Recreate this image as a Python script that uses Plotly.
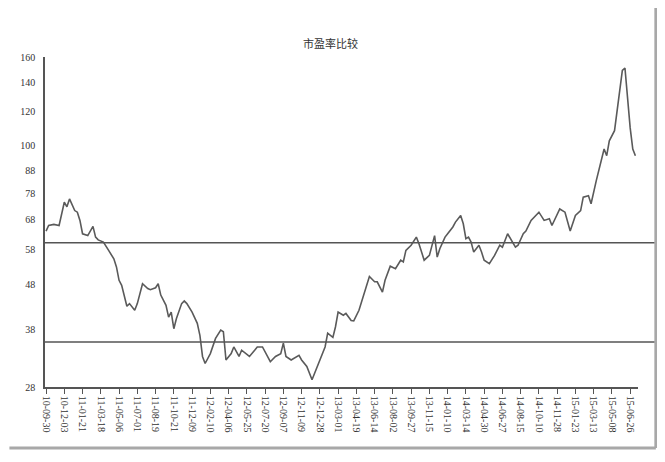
import math
import plotly.graph_objects as go

# ---- data (weekly index, value) ----
week_idx = [0, 1, 3, 5, 7, 8, 9, 11, 12, 13, 14, 16, 18, 19, 20, 22, 24, 26, 27, 28, 29,
            30, 31, 32, 34, 35, 37, 39, 40, 42, 43, 44, 46, 47, 48, 49, 50, 52, 53, 54, 56,
            58, 59, 60, 61, 63, 65, 67, 68, 69, 71, 72, 74, 75, 78, 80, 81, 83, 85, 86, 88,
            90, 91, 92, 94, 96, 97, 98, 100, 102, 103, 105, 107, 108, 110, 111, 112, 114, 115,
            117, 118, 120, 122, 124, 126, 127, 129, 130, 132, 134, 136, 137, 138, 140, 142,
            143, 145, 147, 149, 150, 151, 153, 154, 156, 157, 159, 160, 161, 162, 163, 164,
            166, 167, 168, 170, 172, 174, 175, 177, 178, 180, 181, 183, 184, 186, 189, 191,
            193, 194, 197, 199, 201, 203, 205, 206, 208, 209, 211, 213, 214, 215, 216, 218,
            219, 220, 221, 222, 223, 224, 225, 226]
pe_values = [63.8, 65.7, 66.1, 65.7, 74.3, 72.5, 75.6, 71.1, 70.5, 67.5, 62.9, 62.3, 65.4,
             61.8, 60.9, 60.2, 57.6, 55.1, 52.8, 49.2, 47.9, 45.1, 42.9, 43.5, 42.0, 43.5,
             48.3, 47.1, 46.8, 47.3, 48.3, 45.5, 43.1, 40.5, 41.6, 38.1, 40.2, 43.5, 44.1,
             43.5, 41.6, 39.2, 36.8, 32.9, 31.7, 33.4, 36.2, 37.8, 37.5, 32.3, 33.4, 34.6,
             32.9, 34.0, 32.9, 34.0, 34.6, 34.6, 32.9, 32.0, 32.9, 33.4, 35.3, 32.9, 32.3,
             32.9, 33.1, 32.3, 31.2, 29.1, 30.1, 32.3, 34.6, 37.2, 36.4, 38.5, 41.6, 40.9,
             41.3, 39.8, 39.7, 42.0, 46.0, 50.2, 48.8, 48.8, 46.2, 49.2, 53.0, 52.3, 54.7,
             54.2, 57.6, 59.2, 61.8, 59.7, 54.7, 56.1, 62.3, 55.6, 58.1, 61.8, 62.9, 65.2,
             66.9, 69.3, 66.3, 61.3, 61.8, 60.2, 57.1, 59.2, 57.1, 54.7, 53.7, 56.1, 59.2,
             58.6, 62.9, 61.3, 58.6, 59.2, 62.9, 63.8, 67.5, 70.5, 67.5, 68.1, 65.7, 71.7,
             70.5, 63.8, 69.3, 71.1, 76.3, 76.9, 73.7, 83.3, 92.5, 98.4, 95.0, 102.8, 108.4,
             120.4, 136.1, 149.0, 151.0, 127.0, 110.0, 98.4, 95.0]

tick_idx = [i * 7 for i in range(33)]
tick_labels = ["10-09-30", "10-12-03", "11-01-21", "11-03-18", "11-05-06", "11-07-01",
               "11-08-19", "11-10-21", "11-12-09", "12-02-10", "12-04-06", "12-05-25",
               "12-07-20", "12-09-07", "12-11-09", "12-12-28", "13-03-01", "13-04-19",
               "13-06-14", "13-08-02", "13-09-27", "13-11-15", "14-01-10", "14-03-14",
               "14-04-30", "14-06-27", "14-08-15", "14-10-10", "14-11-28", "15-01-23",
               "15-03-13", "15-05-08", "15-06-26"]
y_ticks = [28, 38, 48, 58, 68, 78, 88, 100, 120, 140, 160]
ref_levels = [60, 35.5]
title_text = "市盈率比较"

fig = go.Figure()
fig.add_trace(go.Scatter(x=week_idx, y=pe_values, mode="lines",
                         line=dict(color="#5a5a5a", width=1.6), showlegend=False,
                         hoverinfo="skip"))

for lv in ref_levels:
    fig.add_shape(type="line", xref="paper", yref="y", x0=0, x1=1.0284, y0=lv, y1=lv,
                  line=dict(color="#555555", width=1.4))

# frame shadow (right and bottom)
fig.add_shape(type="line", xref="paper", yref="paper", x0=1.0301, x1=1.0301, y0=-0.1848,
              y1=1.16, line=dict(color="#a8a8a8", width=3))
fig.add_shape(type="line", xref="paper", yref="paper", x0=-0.06, x1=1.0301, y0=-0.1848,
              y1=-0.1848, line=dict(color="#a8a8a8", width=3))

fig.add_annotation(text=title_text, xref="paper", yref="paper", x=0.4816, y=1.0424,
                   showarrow=False, xanchor="center", yanchor="middle",
                   font=dict(family="Noto Sans CJK SC", size=11, color="#333333"))

fig.update_layout(
    width=665, height=462, autosize=False,
    margin=dict(l=32, r=35, t=49, b=83),
    paper_bgcolor="white", plot_bgcolor="white",
    font=dict(family="Liberation Serif", size=10, color="#333333"),
    xaxis=dict(range=[-0.4, 227], tickmode="array", tickvals=tick_idx, ticktext=tick_labels,
               tickangle=90, showline=True, linecolor="#555555", linewidth=1.5,
               ticks="outside", ticklen=5, tickcolor="#555555", tickwidth=1,
               showgrid=False, zeroline=False,
               tickfont=dict(family="Liberation Serif", size=10, color="#333333")),
    yaxis=dict(type="log", range=[math.log10(28), math.log10(160)], tickmode="array",
               tickvals=y_ticks, ticktext=[str(v) for v in y_ticks],
               showline=True, linecolor="#555555", linewidth=1.5,
               ticks="outside", ticklen=6, tickcolor="rgba(0,0,0,0)",
               showgrid=False, zeroline=False,
               tickfont=dict(family="Liberation Serif", size=10, color="#333333")),
)

fig.write_html("out.html")
